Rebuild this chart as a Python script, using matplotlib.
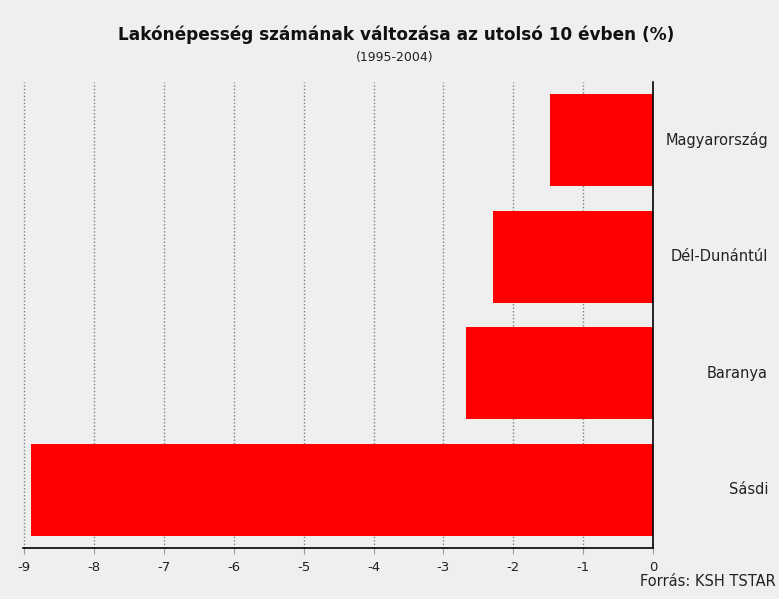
import matplotlib
matplotlib.use("Agg")
import matplotlib.pyplot as plt
import matplotlib.transforms as mtransforms

categories = ["Magyarország", "Dél-Dunántúl", "Baranya", "Sásdi"]
values = [-1.47, -2.29, -2.68, -8.91]
xticks = [-9, -8, -7, -6, -5, -4, -3, -2, -1, 0]

bg = "#efefef"
fig = plt.figure(figsize=(7.79, 5.99), dpi=100, facecolor=bg)
ax = fig.add_axes([0.0295, 0.0851, 0.8087, 0.778])
ax.set_facecolor(bg)

ypos = list(range(len(categories)))
ax.barh(ypos, values, height=0.79, color="#ff0000", zorder=3)

ax.set_xlim(-9.02, 0)
ax.set_ylim(3.5, -0.5)
ax.set_xticks(xticks)
ax.set_xticklabels([str(t) for t in xticks], fontsize=9.5, color="#222222")
ax.tick_params(axis="x", length=4, color="#999999", pad=5)
ax.set_yticks([])
ax.grid(axis="x", linestyle=(0, (1, 1.5)), color="#808080", linewidth=1, zorder=1)

for s in ["top", "left"]:
    ax.spines[s].set_visible(False)
for s in ["bottom", "right"]:
    ax.spines[s].set_color("black")
    ax.spines[s].set_linewidth(1.2)
    ax.spines[s].set_zorder(4)

trans = mtransforms.blended_transform_factory(fig.transFigure, ax.transData)
for y, c in zip(ypos, categories):
    ax.text(768 / 779, y, c, transform=trans, ha="right", va="center",
            fontsize=10.5, color="#222222")

fig.text(396 / 779, 1 - 35 / 599, "Lakónépesség számának változása az utolsó 10 évben (%)",
         ha="center", va="center", fontsize=12.2, fontweight="bold", color="#111111")
fig.text(395 / 779, 1 - 57 / 599, "(1995-2004)", ha="center", va="center",
         fontsize=9, color="#222222")
fig.text(776 / 779, 1 - 581 / 599, "Forrás: KSH TSTAR", ha="right", va="center",
         fontsize=10.5, color="#222222")

fig.savefig("out.png", dpi=100, facecolor=bg)
